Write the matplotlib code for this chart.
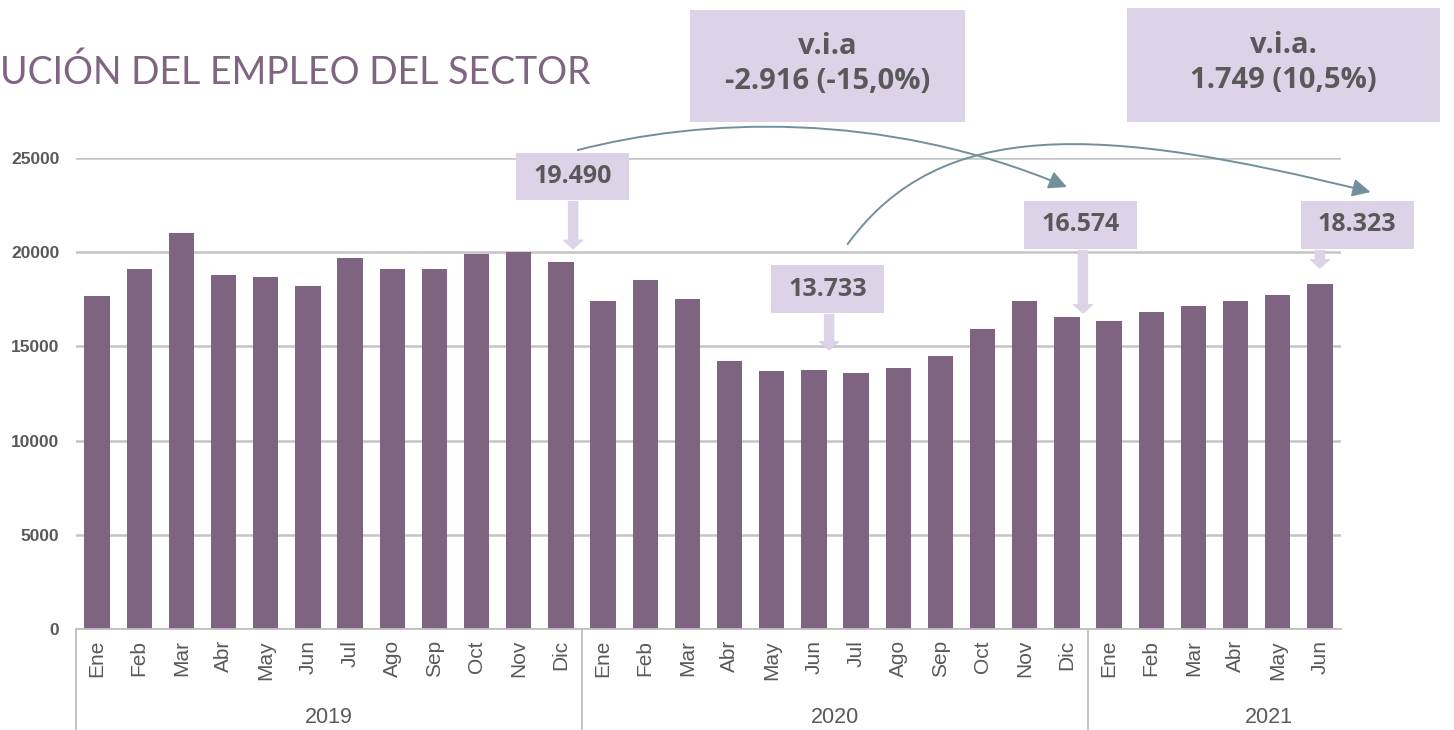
import matplotlib
matplotlib.use("Agg")
import matplotlib.pyplot as plt
import matplotlib.transforms as mtransforms
import numpy as np
from matplotlib import font_manager
from matplotlib.patches import Rectangle, FancyArrowPatch
from matplotlib.path import Path

# datos
meses = ["Ene", "Feb", "Mar", "Abr", "May", "Jun", "Jul", "Ago", "Sep", "Oct", "Nov", "Dic"]
anios = ["2019", "2020", "2021"]
empleo_2019 = [17700, 19100, 21000, 18800, 18700, 18200, 19700, 19100, 19100, 19900, 20000, 19490]
empleo_2020 = [17400, 18500, 17500, 14200, 13700, 13733, 13600, 13850, 14500, 15900, 17400, 16574]
empleo_2021 = [16350, 16800, 17150, 17400, 17750, 18323]
via_textos = ["v.i.a\n-2.916 (-15,0%)", "v.i.a.\n1.749 (10,5%)"]

series = [empleo_2019, empleo_2020, empleo_2021]
valores = np.concatenate(series)
etiquetas = sum([meses[:len(s)] for s in series], [])
x = np.arange(len(valores))

# estilos
MORADO = "#7e6480"
LAVANDA = "#dcd3e9"
GRIS = "#595959"
GRIS_LINEA = "#c4c4c4"
FLECHA = "#72909b"

nombres = {f.name for f in font_manager.fontManager.ttflist}
fuente_caja = "Liberation Sans Narrow" if "Liberation Sans Narrow" in nombres else "Open Sans"

W, H = 1454, 730
fig = plt.figure(figsize=(W / 100, H / 100), dpi=100)
ax = fig.add_axes([76 / W, 1 - 629 / H, (1341 - 76) / W, 471 / H])

ax.bar(x, valores, width=0.6, color=MORADO, zorder=2)
ax.set_xlim(-0.5, len(valores) - 0.5)
ax.set_ylim(0, 25000)
ax.set_yticks(range(0, 25001, 5000))
ax.yaxis.grid(True, color=GRIS_LINEA, lw=1.8)
ax.set_axisbelow(True)
for s in ["left", "right", "top"]:
    ax.spines[s].set_visible(False)
ax.spines["bottom"].set_color("#bfbfbf")
ax.spines["bottom"].set_linewidth(1.3)

ax.tick_params(axis="y", length=0, pad=12, labelcolor=GRIS)
for t in ax.get_yticklabels():
    t.set_fontfamily("Liberation Sans")
    t.set_fontweight("bold")
    t.set_fontsize(12.5)

ax.set_xticks(x)
ax.set_xticklabels(etiquetas, rotation=90, fontsize=15, color=GRIS, family="Liberation Sans")
ax.tick_params(axis="x", length=0, pad=8)

# separadores de años
trans = mtransforms.blended_transform_factory(ax.transData, ax.transAxes)
inicio = -0.5
for i, s in enumerate(series):
    ax.plot([inicio, inicio], [0, -0.22], transform=trans, clip_on=False, color="#bfbfbf", lw=1.3)
    centro = inicio + len(s) / 2 if i < 2 else 27.8
    ax.text(centro, -0.187, anios[i], transform=trans, ha="center", va="center",
            fontsize=15.5, color=GRIS, family="Liberation Sans")
    inicio += len(s)

# titulo
fig.text(0.0, 1 - 84 / H, "UCIÓN DEL EMPLEO DEL SECTOR", ha="left", va="baseline",
         fontsize=27, color="#7f6582", family="Lato")

# etiquetas con flecha
llamadas = [(11, 11.27, 22770, 25270, 11.29, 700),
            (17, 17.33, 16770, 19320, 17.36, 1080),
            (23, 23.33, 20170, 22720, 23.38, 200),
            (29, 29.88, 20170, 22720, 29.0, 840)]
ancho_caja = 2.68
for idx, cx, y0, y1, ax_x, sep in llamadas:
    ax.add_patch(Rectangle((cx - ancho_caja / 2, y0), ancho_caja, y1 - y0, facecolor=LAVANDA,
                           edgecolor="none", clip_on=False, zorder=4))
    ax.text(cx, (y0 + y1) / 2, f"{int(valores[idx]):,}".replace(",", "."), ha="center", va="center",
            fontsize=18, fontweight="bold", color=GRIS, family=fuente_caja, zorder=5)
    flecha = FancyArrowPatch((ax_x, y0 - 80), (ax_x, valores[idx] + sep),
                             arrowstyle="simple,head_length=0.6,head_width=1.35,tail_width=0.65",
                             mutation_scale=10, color=LAVANDA, shrinkA=0, shrinkB=0,
                             clip_on=False, zorder=4)
    ax.add_patch(flecha)

# cajas v.i.a
cajas = [(14.06, 20.58, 26910, 32860), (24.42, 31.85, 26910, 32960)]
for (xa, xb, ya, yb), txt in zip(cajas, via_textos):
    ax.add_patch(Rectangle((xa, ya), xb - xa, yb - ya, facecolor=LAVANDA, edgecolor="none",
                           clip_on=False, zorder=4))
    ax.text((xa + xb) / 2, (ya + yb) / 2 + 100, txt, ha="center", va="center", fontsize=21,
            fontweight="bold", color=GRIS, family=fuente_caja, linespacing=1.25, zorder=5)

# flechas curvas
curvas = [[(11.4, 25420), (14.3, 27100), (18.6, 27600), (23.0, 23460)],
          [(17.8, 20430), (20.0, 27200), (23.8, 26750), (30.2, 23190)]]
for pts in curvas:
    camino = Path(pts, [Path.MOVETO, Path.CURVE4, Path.CURVE4, Path.CURVE4])
    ax.add_patch(FancyArrowPatch(path=camino, arrowstyle="-|>,head_length=0.9,head_width=0.45",
                                 mutation_scale=12, color=FLECHA, lw=1.4, clip_on=False, zorder=3))

fig.savefig("out.png", dpi=100)
